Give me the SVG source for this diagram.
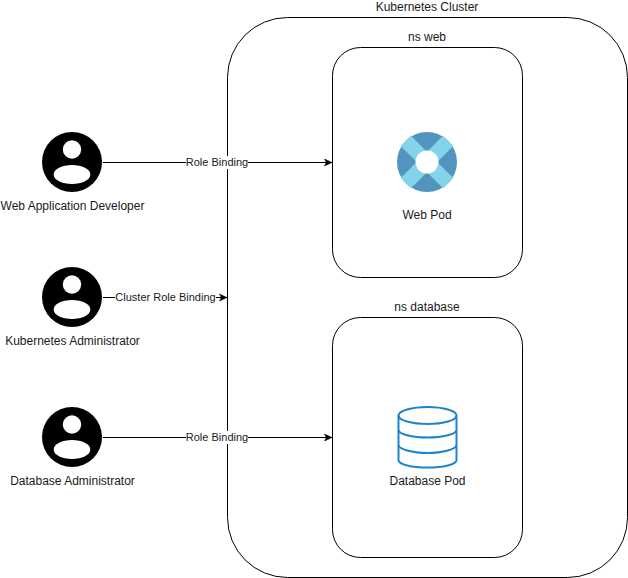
<svg xmlns="http://www.w3.org/2000/svg" width="628" height="578" viewBox="0 0 628 578">
<style>
text{font-family:"Liberation Sans",Arial,sans-serif;font-size:12px;fill:#1a1a1a;text-anchor:middle}
text.edge{font-size:11px}
.box{fill:#fff;stroke:#000;stroke-width:1}
.line{fill:none;stroke:#000;stroke-width:1;marker-end:url(#arrow)}
.lbl{fill:#fff}
.db{fill:none;stroke:#1f84cc;stroke-width:2}
</style>
<defs>
<marker id="arrow" markerUnits="userSpaceOnUse" markerWidth="9" markerHeight="9" refX="8" refY="4.5" orient="auto"><path d="M0.5 1L8 4.5L0.5 8L2.3 4.500Z" fill="#000" stroke="#000" stroke-width="0.5"/></marker>
<g id="user"><circle r="30" fill="#000"/><circle cy="-12.500" r="9.200" fill="#fff"/><ellipse cy="12.500" rx="18.300" ry="9.500" fill="#fff"/></g>
</defs>
<rect width="628" height="578" fill="#fff"/>
<g id="cluster"><rect class="box" x="227.500" y="17.500" width="400" height="560" rx="60" ry="60"/><text x="427" y="11">Kubernetes Cluster</text></g>
<g id="ns-web"><rect class="box" x="332.500" y="47.500" width="190" height="230" rx="28" ry="28"/><text x="427" y="41">ns web</text></g>
<g id="ns-database"><rect class="box" x="332.500" y="317.500" width="190" height="240" rx="28" ry="28"/><text x="427" y="311">ns database</text></g>
<g id="connectors">
<path class="line" d="M103 162.500H332"/>
<path class="line" d="M103 297.500H227"/>
<path class="line" d="M103 437.500H332"/>
<rect class="lbl" x="186" y="156" width="62" height="13"/><text class="edge" x="217" y="166">Role Binding</text>
<rect class="lbl" x="115" y="291" width="101" height="13"/><text class="edge" x="165.500" y="301">Cluster Role Binding</text>
<rect class="lbl" x="186" y="431" width="62" height="13"/><text class="edge" x="217" y="441">Role Binding</text>
</g>
<g id="web-developer"><use href="#user" x="72" y="162"/><text x="72.500" y="210">Web Application Developer</text></g>
<g id="k8s-admin"><use href="#user" x="72" y="297"/><text x="72.500" y="345">Kubernetes Administrator</text></g>
<g id="db-admin"><use href="#user" x="72" y="437"/><text x="72.500" y="485">Database Administrator</text></g>
<g id="web-pod">
<circle cx="427" cy="162" r="30" fill="#5195bf"/>
<path d="M405.800 140.800L448.200 183.200M448.200 140.800L405.800 183.200" stroke="#83d3ea" stroke-width="14.500" fill="none"/>
<circle cx="427" cy="162" r="11.500" fill="#fff"/>
<text x="427" y="219">Web Pod</text>
</g>
<g id="database-pod">
<path class="db" d="M398.500 415.500V460C398.500 464.500 412 467.500 427.500 467.500S456.500 464.500 456.500 460V415.500"/>
<ellipse class="db" cx="427.500" cy="415.500" rx="29" ry="8.500"/>
<path class="db" d="M398.500 430C398.500 434 412 437.500 427.500 437.500S456.500 434 456.500 430M398.500 445C398.500 449 412 453 427.500 453S456.500 449 456.500 445"/>
<text x="427.500" y="485">Database Pod</text>
</g>
</svg>
